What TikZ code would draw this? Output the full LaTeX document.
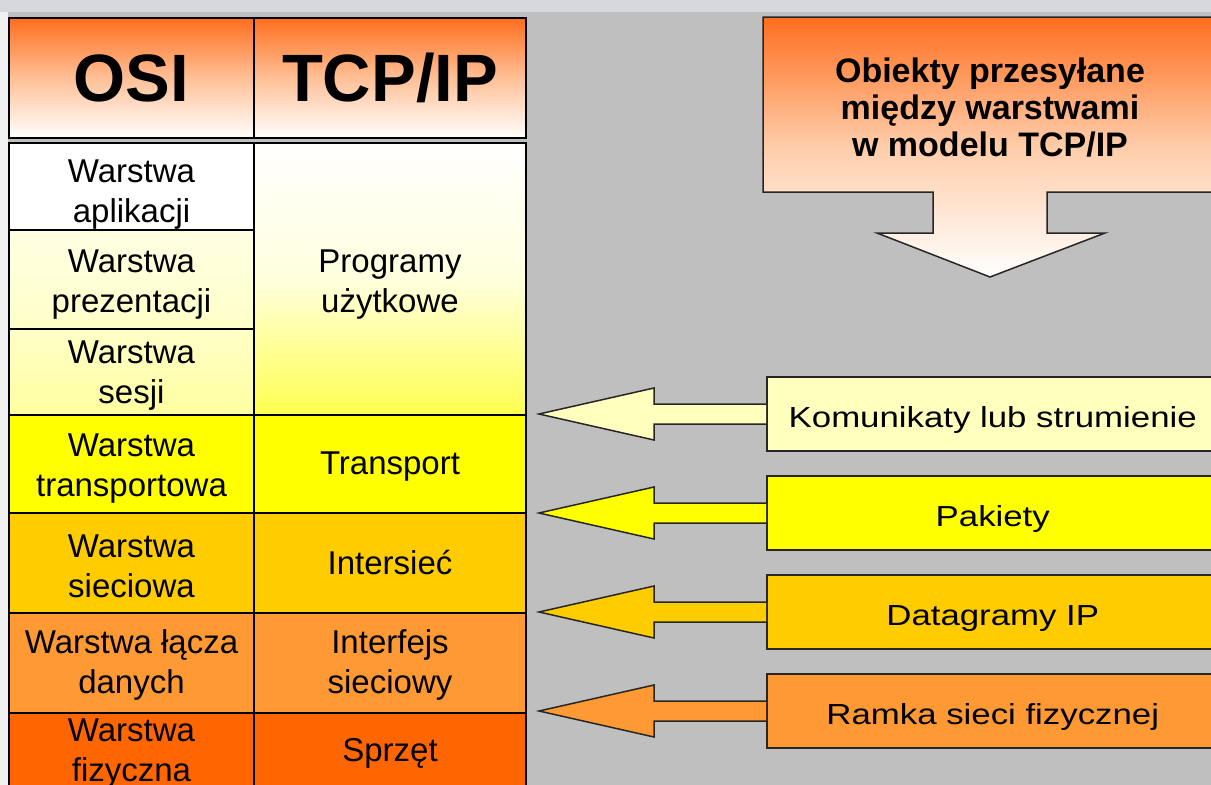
\documentclass[tikz,border=0pt]{standalone}
\usepackage{fontspec}
\setmainfont{Liberation Sans}
\newfontfamily\widefont[FakeStretch=1.2]{Liberation Sans}
\usetikzlibrary{calc}
\definecolor{bg}{RGB}{191,191,191}
\definecolor{topband}{RGB}{214,216,222}
\definecolor{leftstrip}{RGB}{240,240,240}
\definecolor{orangeA}{RGB}{255,110,30}
\definecolor{peach}{RGB}{255,192,150}
\definecolor{peachB}{RGB}{255,205,170}
\definecolor{creamA}{RGB}{255,255,228}
\definecolor{creamB}{RGB}{255,255,200}
\definecolor{creamC}{RGB}{255,255,160}
\definecolor{progY}{RGB}{255,255,80}
\definecolor{progM}{RGB}{255,255,222}
\definecolor{paleY}{RGB}{255,255,190}
\definecolor{Ylw}{RGB}{255,255,0}
\definecolor{gold}{RGB}{255,204,0}
\definecolor{orB}{RGB}{255,153,51}
\definecolor{orC}{RGB}{255,102,0}
\newcommand\celltext[3]{\node[txt] (#1x) at ($(#1.center)+(0,#2)$) {#3};}
\begin{document}
\begin{tikzpicture}[x=1pt,y=-1pt,
  cell/.style={draw=black, line width=2pt, inner sep=0pt, anchor=north west},
  lcell/.style={cell, minimum width=245pt},
  rcell/.style={cell, minimum width=272pt},
  txt/.style={align=center, inner sep=0pt, font=\fontsize{33}{40}\selectfont},
  head/.style={cell, minimum height=120pt, align=center,
    font=\fontsize{67}{70}\bfseries\selectfont,
    top color=orangeA, bottom color=white, middle color=peach},
  lbl/.style={draw=black!85, line width=1.5pt, anchor=west, minimum height=74pt,
    minimum width=452pt, inner sep=0pt, text height=30pt, text depth=3pt,
    font=\widefont\fontsize{29}{34}\selectfont},
  arr/.style={draw=black!85, line width=1.5pt}
]
\useasboundingbox (0,0) rectangle (1211,785);
\fill[bg] (0,0) rectangle (1211,785);
\fill[topband] (0,0) rectangle (1211,12);
\fill[leftstrip] (0,12) rectangle (8,785);

% header
\node[head, minimum width=245pt] (h1) at (8,17) {OSI};
\node[head, minimum width=272pt] (h2) at (253,17) {TCP/IP};

% OSI column
\node[lcell, minimum height=87pt, fill=white] (o1) at (8,142) {};
\node[lcell, minimum height=99pt, top color=creamA, bottom color=creamB] (o2) at (8,229) {};
\node[lcell, minimum height=86pt, top color=creamB, bottom color=creamC] (o3) at (8,328) {};
\node[lcell, minimum height=98pt, fill=Ylw] (o4) at (8,414) {};
\node[lcell, minimum height=100pt, fill=gold] (o5) at (8,512) {};
\node[lcell, minimum height=100pt, fill=orB] (o6) at (8,612) {};
\node[lcell, minimum height=84pt, fill=orC] (o7) at (8,712) {};
\celltext{o1}{8}{Warstwa\\aplikacji}
\celltext{o2}{5}{Warstwa\\prezentacji}
\celltext{o3}{4}{Warstwa\\sesji}
\celltext{o4}{5}{Warstwa\\transportowa}
\celltext{o5}{3}{Warstwa\\sieciowa}
\celltext{o6}{2}{Warstwa łącza\\danych}
\celltext{o7}{-1}{Warstwa\\fizyczna}

% TCP/IP column
\node[rcell, minimum height=272pt, top color=white, bottom color=progY, middle color=progM] (t1) at (253,142) {};
\node[rcell, minimum height=98pt, fill=Ylw] (t2) at (253,414) {};
\node[rcell, minimum height=100pt, fill=gold] (t3) at (253,512) {};
\node[rcell, minimum height=100pt, fill=orB] (t4) at (253,612) {};
\node[rcell, minimum height=84pt, fill=orC] (t5) at (253,712) {};
\celltext{t1}{6}{Programy\\użytkowe}
\celltext{t2}{3}{Transport}
\celltext{t3}{0}{Intersieć}
\celltext{t4}{2}{Interfejs\\sieciowy}
\celltext{t5}{-2}{Sprzęt}

% big down arrow
\draw[arr, top color=orangeA, bottom color=white, middle color=peachB]
  (763,17) -- (1218,17) -- (1218,192) -- (1047,192) -- (1047,233) -- (1105,233)
  -- (990,277) -- (877,233) -- (933,233) -- (933,192) -- (763,192) -- cycle;
\node[align=center, font=\fontsize{34}{37}\bfseries\selectfont] (obj) at (990,108)
  {Obiekty przesyłane\\między warstwami\\w modelu TCP/IP};

% label boxes
\node[lbl, fill=paleY] (k1) at (766,414) {Komunikaty lub strumienie};
\node[lbl, fill=Ylw]   (k2) at (766,513) {Pakiety};
\node[lbl, fill=gold]  (k3) at (766,612) {Datagramy IP};
\node[lbl, fill=orB]   (k4) at (766,711) {Ramka sieci fizycznej};

% left arrows
\foreach \k/\c in {k1/paleY, k2/Ylw, k3/gold, k4/orB}{
  \filldraw[arr, fill=\c] (\k.west) ++(0,-10) -- ++(-112,0) -- ++(0,-16)
    -- ++(-115,26) -- ++(115,26) -- ++(0,-16) -- ++(112,0);
}
\end{tikzpicture}
\end{document}
